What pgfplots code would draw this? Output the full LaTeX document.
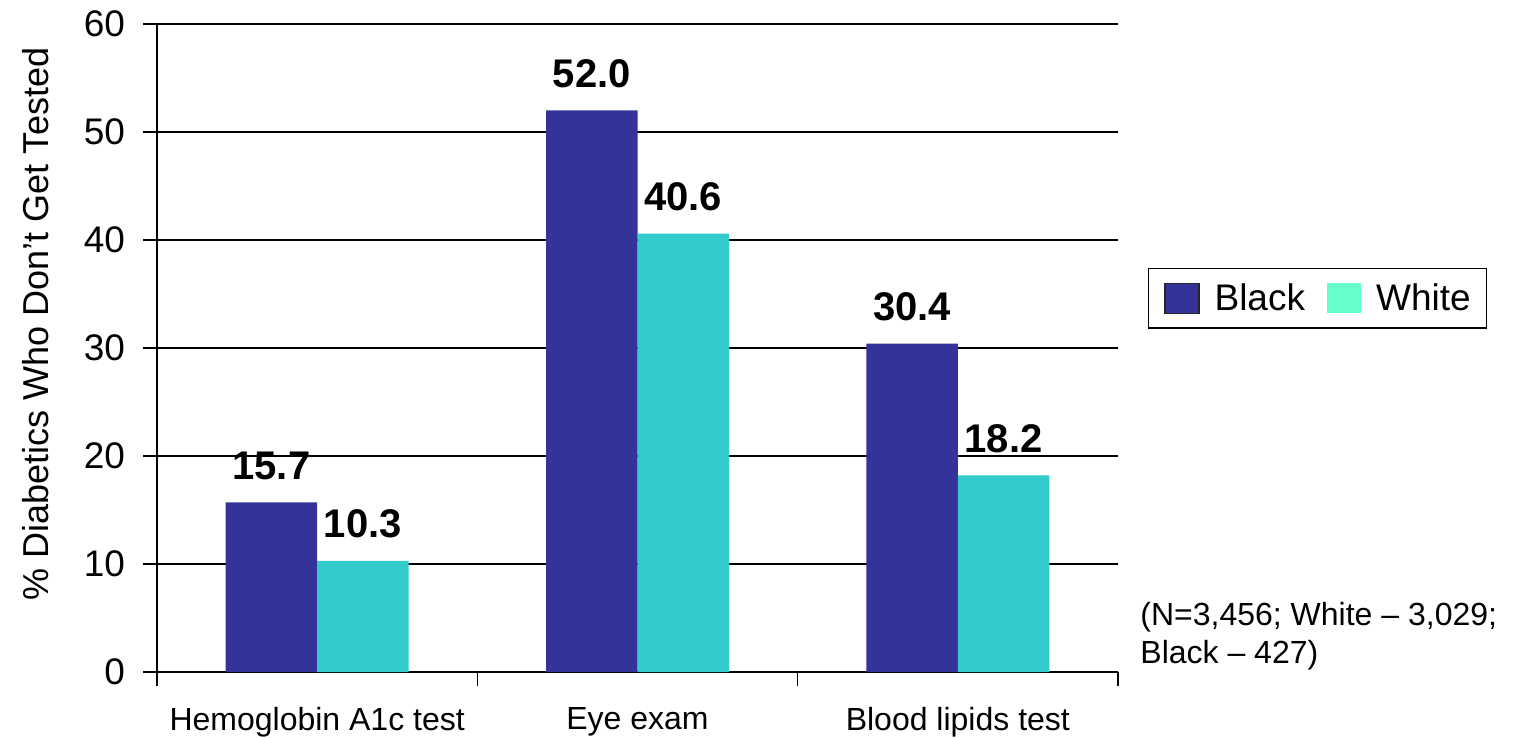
\documentclass[border=0pt]{standalone}
\usepackage{fontspec}
\setmainfont{Liberation Sans}
\usepackage{pgfplots}
\pgfplotsset{compat=1.18}
\definecolor{cblack}{HTML}{333399}
\definecolor{cwhite}{HTML}{33CCCC}
\definecolor{clegwhite}{HTML}{66FFCC}
\begin{document}
\begin{tikzpicture}
\begin{axis}[
  scale only axis, width=480.5pt, height=324pt,
  clip=false,
  xmin=-0.5, xmax=2.5, ymin=0, ymax=60,
  ytick={0,10,...,60},
  xtick={0,1,2},
  xticklabels={Hemoglobin A1c test, Eye exam, Blood lipids test},
  minor xtick={-0.5,0.5,1.5,2.5},
  axis x line*=bottom, axis y line*=left,
  axis line style={black, line width=0.8pt, -},
  tick align=outside,
  major tick length=7pt,
  minor tick length=7pt,
  every tick/.style={black, line width=0.8pt},
  major x tick style={draw=none},
  ymajorgrids, grid style={black, line width=0.6pt},
  /pgf/number format/assume math mode=true,
  yticklabel style={font=\fontsize{18.5}{21}\selectfont, xshift=-5.5pt},
  xticklabel style={font=\fontsize{16}{19}\selectfont, yshift=-7pt},
  ylabel={\% Diabetics Who Don’t Get Tested},
  ylabel style={font=\fontsize{18}{21}\selectfont, at={(rel axis cs:-0.1258,0.537)}, anchor=center},
  ybar, bar width=45.75pt,
  nodes near coords,
  nodes near coords style={font=\fontsize{20}{23}\selectfont\bfseries, anchor=base, inner sep=0pt, yshift=11.5pt, /pgf/number format/.cd, fixed, fixed zerofill, precision=1},
  legend style={at={(rel axis cs:1.2076,0.577)}, anchor=center, legend columns=2, draw=black, line width=0.8pt,
    font=\fontsize{18.5}{21}\selectfont, inner xsep=8pt, inner ysep=7pt,
    nodes={inner sep=0pt},
    /tikz/every odd column/.style={column sep=7.5pt},
    /tikz/every even column/.style={column sep=11pt}},
]
\addplot[fill=cblack, draw=none, bar shift=-22.875pt, forget plot] coordinates {(0,15.7) (1,52.0) (2,30.4)};
\addplot[fill=cwhite, draw=none, bar shift=22.875pt, forget plot] coordinates {(0,10.3) (1,40.6) (2,18.2)};
\addlegendimage{legend image code/.code={\draw[fill=cblack, draw=black!85, line width=0.6pt] (0pt,-7.5pt) rectangle (17pt,7.5pt);}}
\addlegendentry{Black}
\addlegendimage{legend image code/.code={\draw[fill=clegwhite, draw=none] (0pt,-7.5pt) rectangle (17pt,7.5pt);}}
\addlegendentry{White}
\node[anchor=base west, align=left, font=\fontsize{16}{19}\selectfont, inner sep=0pt] at (rel axis cs:1.0229,0.0124) {(N=3,456; White -- 3,029;\\Black -- 427)};
\coordinate (bl) at (rel axis cs:-0.16337,-0.10031);
\coordinate (tr) at (rel axis cs:1.41207,1.03704);
\end{axis}
\pgfresetboundingbox
\path[use as bounding box] (bl) rectangle (tr);
\end{tikzpicture}
\end{document}
